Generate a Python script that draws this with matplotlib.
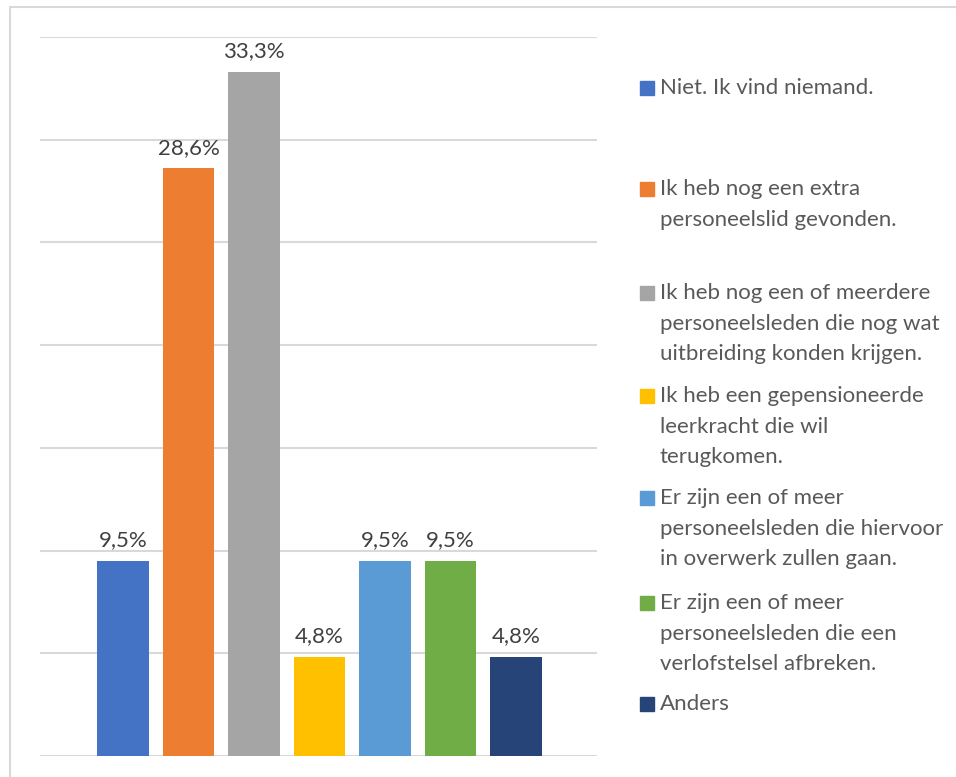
import matplotlib
matplotlib.use('Agg')
import matplotlib.pyplot as plt
from matplotlib.patches import Rectangle

# survey answers, one bar each
answers = ['Niet. Ik vind niemand.',
           'Ik heb nog een extra\npersoneelslid gevonden.',
           'Ik heb nog een of meerdere\npersoneelsleden die nog wat\nuitbreiding konden krijgen.',
           'Ik heb een gepensioneerde\nleerkracht die wil\nterugkomen.',
           'Er zijn een of meer\npersoneelsleden die hiervoor\nin overwerk zullen gaan.',
           'Er zijn een of meer\npersoneelsleden die een\nverlofstelsel afbreken.',
           'Anders']
percent = [9.5, 28.6, 33.3, 4.8, 9.5, 9.5, 4.8]
colors = ['#4472C4', '#ED7D31', '#A5A5A5', '#FFC000', '#5B9BD5', '#70AD47', '#264478']

W, H = 956, 777
plt.rcParams['font.family'] = ['Lato', 'DejaVu Sans']
fig = plt.figure(figsize=(W / 100, H / 100), dpi=100)

# outer chart border (only top and left visible)
fig.add_artist(Rectangle((10 / W, -0.1), 1.2, (H - 7) / H + 0.1, transform=fig.transFigure,
                         fill=False, edgecolor='#D9D9D9', linewidth=1.5))

ax = fig.add_axes([40 / W, 1 - 756 / H, 557 / W, (756 - 37) / H])
x = list(range(len(percent)))
bars = ax.bar(x, percent, width=0.79, color=colors, zorder=3)
ax.set_xlim(-1.27, 7.24)
ax.set_ylim(0, 35)
ax.set_yticks(range(0, 36, 5))
ax.yaxis.grid(True, color='#D9D9D9', linewidth=1.5, zorder=0)
ax.tick_params(left=False, bottom=False, labelleft=False, labelbottom=False)
for s in ax.spines.values():
    s.set_visible(False)

for b, v in zip(bars, percent):
    ax.annotate('{:.1f}%'.format(v).replace('.', ','), (b.get_x() + b.get_width() / 2, v),
                xytext=(0, 15), textcoords='offset points', ha='center', va='center',
                fontsize=16, color='#404040')

# legend, entries spaced evenly
legend_y = [88, 189, 293, 396, 498, 603, 704]
for lab, c, yp in zip(answers, colors, legend_y):
    fig.add_artist(Rectangle((640 / W, 1 - (yp + 7) / H), 14 / W, 14 / H,
                             transform=fig.transFigure, color=c))
    fig.text(660 / W, 1 - (yp - 10) / H, lab, ha='left', va='top', fontsize=16,
             color='#595959', linespacing=1.66)

fig.savefig('out.png', dpi=100)
